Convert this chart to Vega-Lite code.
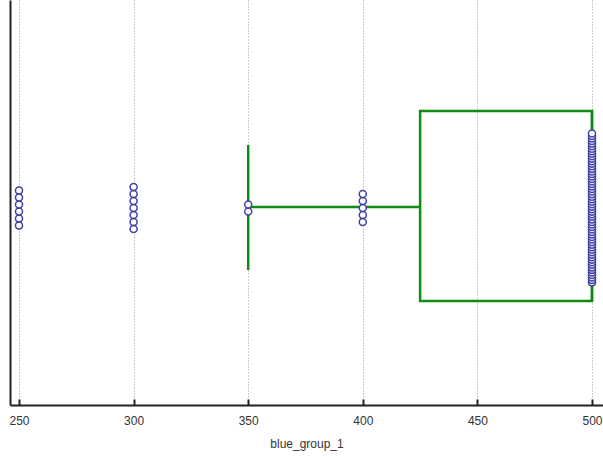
{
  "$schema": "https://vega.github.io/schema/vega-lite/v6.json",
  "width": 593,
  "height": 405,
  "autosize": {"type": "none"},
  "padding": {"left": 10, "top": 0, "right": 0, "bottom": 52},
  "background": "white",
  "config": {
    "view": {"stroke": null},
    "axis": {"labelFont": "Liberation Sans", "titleFont": "Liberation Sans", "labelColor": "#333333", "titleColor": "#333333", "labelFontSize": 12, "titleFontSize": 12, "titleFontWeight": "normal"}
  },
  "datasets": {
    "pts": [
      {"v":250},{"v":250},{"v":250},{"v":250},{"v":250},{"v":250},
      {"v":300},{"v":300},{"v":300},{"v":300},{"v":300},{"v":300},{"v":300},
      {"v":350},{"v":350},
      {"v":400},{"v":400},{"v":400},{"v":400},{"v":400},
      {"v":500},{"v":500},{"v":500},{"v":500},{"v":500},{"v":500},{"v":500},{"v":500},{"v":500},{"v":500},
      {"v":500},{"v":500},{"v":500},{"v":500},{"v":500},{"v":500},{"v":500},{"v":500},{"v":500},{"v":500},
      {"v":500},{"v":500},{"v":500},{"v":500},{"v":500},{"v":500},{"v":500},{"v":500},{"v":500},{"v":500},
      {"v":500},{"v":500},{"v":500},{"v":500},{"v":500},{"v":500},{"v":500},{"v":500},{"v":500},{"v":500},
      {"v":500},{"v":500},{"v":500},{"v":500},{"v":500},{"v":500},{"v":500},{"v":500},{"v":500},{"v":500},
      {"v":500},{"v":500},{"v":500},{"v":500},{"v":500},{"v":500},{"v":500},{"v":500},{"v":500},{"v":500}
    ],
    "box": [{"lo": 350, "q1": 425, "med": 500, "q3": 500, "hi": 500}]
  },
  "layer": [
    {
      "data": {"name": "box"},
      "mark": {"type": "rect", "fillOpacity": 0, "stroke": "#138a13", "strokeWidth": 2.5},
      "encoding": {
        "x": {"field": "q1", "type": "quantitative", "scale": {"domain": [246.07, 504.8], "nice": false, "zero": false},
          "axis": {"title": "blue_group_1", "values": [250, 300, 350, 400, 450, 500], "grid": true, "gridColor": "#999999", "gridDash": [1, 2], "gridWidth": 1, "domainColor": "#222222", "domainWidth": 2, "tickColor": "#222222", "tickWidth": 2, "tickSize": -6, "labelPadding": 16, "titlePadding": 12}},
        "x2": {"field": "q3"},
        "y": {"datum": 97, "type": "quantitative", "scale": {"domain": [-197, 208], "nice": false, "zero": false},
          "axis": {"title": null, "labels": false, "ticks": false, "grid": false, "domainColor": "#222222", "domainWidth": 2}},
        "y2": {"datum": -93}
      }
    },
    {
      "data": {"name": "box"},
      "mark": {"type": "rule", "stroke": "#138a13", "strokeWidth": 2.5},
      "encoding": {
        "x": {"field": "lo", "type": "quantitative"},
        "x2": {"field": "q1"},
        "y": {"datum": 1, "type": "quantitative"}
      }
    },
    {
      "data": {"name": "box"},
      "mark": {"type": "rule", "stroke": "#138a13", "strokeWidth": 2.5},
      "encoding": {
        "x": {"field": "lo", "type": "quantitative"},
        "y": {"datum": 63, "type": "quantitative"},
        "y2": {"datum": -62}
      }
    },
    {
      "data": {"name": "box"},
      "mark": {"type": "rule", "stroke": "#138a13", "strokeWidth": 2.5},
      "encoding": {
        "x": {"field": "med", "type": "quantitative"},
        "y": {"datum": 97, "type": "quantitative"},
        "y2": {"datum": -93}
      }
    },
    {
      "data": {"name": "pts"},
      "transform": [
        {"window": [{"op": "row_number", "as": "rn"}], "groupby": ["v"]},
        {"joinaggregate": [{"op": "count", "as": "n"}], "groupby": ["v"]},
        {"calculate": "(datum.rn - (datum.n + 1) / 2) * (datum.n > 10 ? 149 / (datum.n - 1) : 7)", "as": "off"}
      ],
      "mark": {"type": "point", "shape": "circle", "filled": false, "fill": "white", "fillOpacity": 1, "stroke": "#3f3fa6", "strokeWidth": 1.5, "size": 50, "opacity": 1},
      "encoding": {
        "x": {"field": "v", "type": "quantitative"},
        "y": {"field": "off", "type": "quantitative"}
      }
    }
  ]
}
